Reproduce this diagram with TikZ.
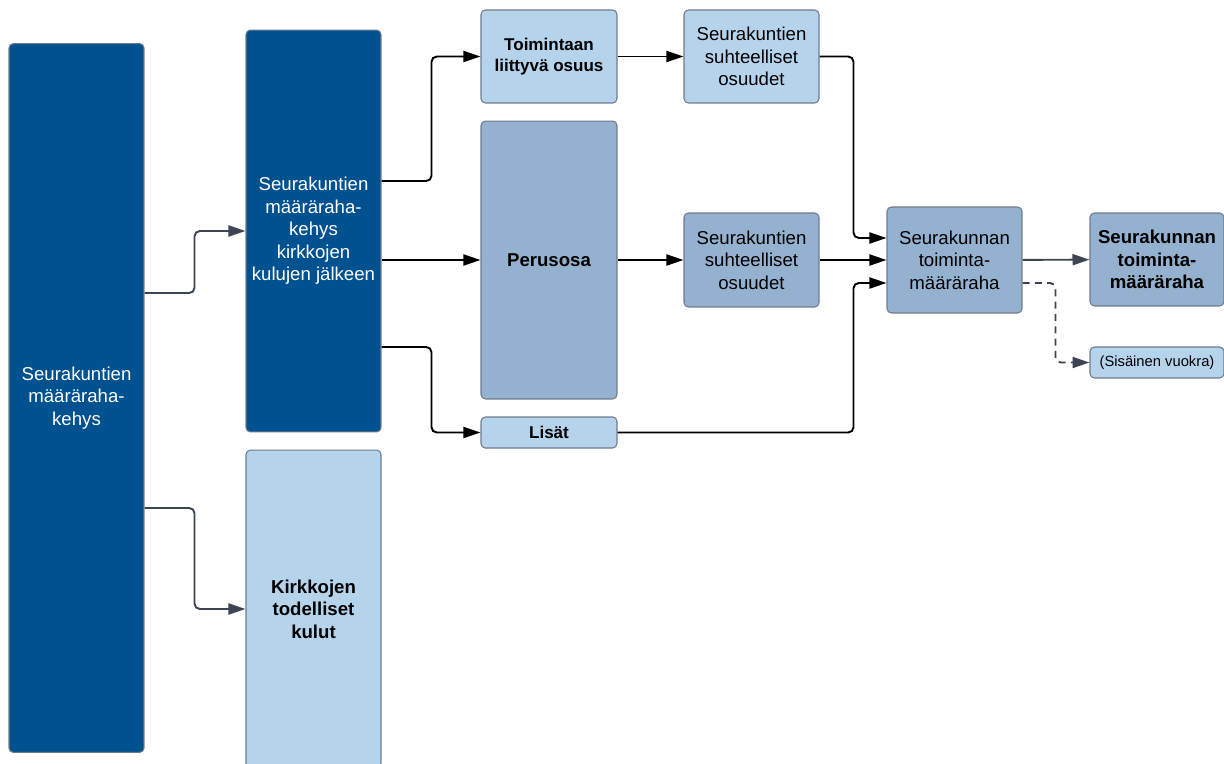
\documentclass[tikz,border=0pt]{standalone}
\usepackage{fontspec}
\setmainfont{Liberation Sans}
\usetikzlibrary{arrows.meta}
\definecolor{darkblue}{HTML}{00518F}
\definecolor{lightblue}{HTML}{B6D3EC}
\definecolor{midblue}{HTML}{94B1CF}
\definecolor{boxline}{HTML}{6E7B8A}
\definecolor{arrowgray}{HTML}{3D4452}
\tikzset{basic/.style={draw=boxline,line width=0.6pt,rounded corners=2.5pt,
                       align=center,inner sep=1pt,
                       font=\fontsize{10.6}{12.8}\selectfont}}
\tikzset{darkbox/.style={basic,fill=darkblue,text=white}}
\tikzset{lightbox/.style={basic,fill=lightblue}}
\tikzset{midbox/.style={basic,fill=midblue}}
\tikzset{smallbold/.style={font=\fontsize{9.7}{12.4}\selectfont\bfseries}}
\tikzset{conn/.style={line width=1.1pt,rounded corners=3pt,
                      -{Triangle[length=0.34cm,width=0.22cm]}}}
\tikzset{grayconn/.style={conn,draw=arrowgray}}
\tikzset{dashconn/.style={grayconn,dash pattern=on 4pt off 3pt}}
\begin{document}
\begin{tikzpicture}[x=0.02cm,y=-0.02cm]
    \useasboundingbox (0,0) rectangle (1224,764);
    % Frame boxes on the left
    \node[darkbox,minimum width=2.7cm,minimum height=14.18cm] (kehys) at (76.5,398)
        {Seurakuntien\\määräraha-\\kehys};
    \node[darkbox,minimum width=2.7cm,minimum height=8.04cm] (jalkeen) at (313.5,231)
        {Seurakuntien\\määräraha-\\kehys\\kirkkojen\\kulujen jälkeen};
    \node[lightbox,minimum width=2.7cm,minimum height=6.36cm] (kulut) at (313.5,609)
        {\bfseries Kirkkojen\\\bfseries todelliset\\\bfseries kulut};
    % Parts of the frame
    \node[lightbox,smallbold,minimum width=2.72cm,minimum height=1.86cm] (toiminta) at (549,56.5)
        {Toimintaan\\liittyvä osuus};
    \node[midbox,minimum width=2.72cm,minimum height=5.56cm] (perusosa) at (549,260)
        {\bfseries Perusosa};
    \node[lightbox,smallbold,minimum width=2.72cm,minimum height=0.62cm] (lisat) at (549,432.5)
        {Lisät};
    % Shares of the parishes
    \node[lightbox,minimum width=2.7cm,minimum height=1.86cm] (osuudet1) at (751.5,56.5)
        {Seurakuntien\\suhteelliset\\osuudet};
    \node[midbox,minimum width=2.7cm,minimum height=1.88cm] (osuudet2) at (751.5,260)
        {Seurakuntien\\suhteelliset\\osuudet};
    % Result boxes
    \node[midbox,minimum width=2.7cm,minimum height=2.12cm] (maararaha) at (954.5,260)
        {Seurakunnan\\toiminta-\\määräraha};
    \node[midbox,minimum width=2.68cm,minimum height=1.86cm] (tulos) at (1157,259.5)
        {\bfseries Seurakunnan\\\bfseries toiminta-\\\bfseries määräraha};
    \node[lightbox,minimum width=2.68cm,minimum height=0.62cm,
          font=\fontsize{8.4}{10}\selectfont] (vuokra) at (1157,362.5)
        {(Sisäinen vuokra)};
    % Edges from the whole frame
    \draw[grayconn] (kehys.east |- 0,293) -- ++(50,0) |- (jalkeen.west);
    \draw[grayconn] (kehys.east |- 0,508) -- ++(50,0) |- (kulut.west);
    % Edges to the parts
    \draw[conn] (jalkeen.east |- 0,181) -- ++(50,0) |- (toiminta.west);
    \draw[conn] (jalkeen.east |- perusosa.west) -- (perusosa.west);
    \draw[conn] (jalkeen.east |- 0,347) -- ++(50,0) |- (lisat.west);
    \draw[conn] (toiminta) -- (osuudet1);
    \draw[conn] (perusosa) -- (osuudet2);
    % Edges to the appropriation
    \draw[conn] (osuudet1.east) -- ++(34,0) |- (maararaha.west |- 0,238);
    \draw[conn] (osuudet2) -- (maararaha);
    \draw[conn] (lisat.east) -- ++(236,0) |- (maararaha.west |- 0,283);
    \draw[grayconn] (maararaha) -- (tulos);
    \draw[dashconn] (maararaha.east |- 0,283) -- ++(33,0) |- (vuokra.west);
\end{tikzpicture}
\end{document}
